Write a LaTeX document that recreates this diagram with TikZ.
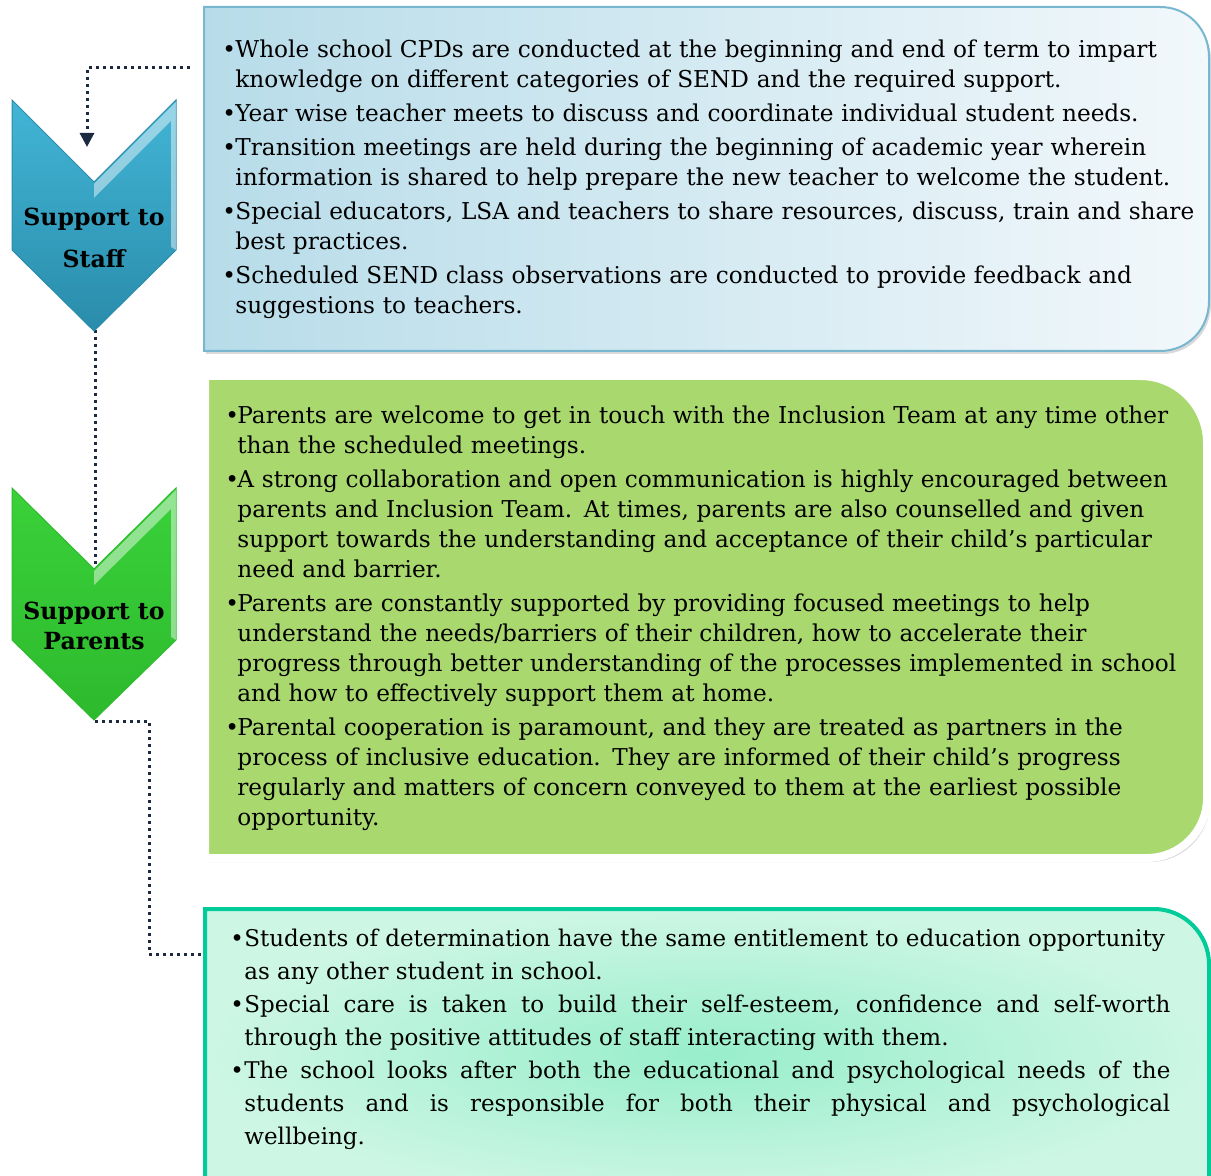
\documentclass[tikz,border=0pt]{standalone}
\usepackage{fontspec}
\setmainfont{DejaVu Serif}
\usetikzlibrary{arrows.meta,shadows,positioning}

\definecolor{navy}{HTML}{1B2A41}
\definecolor{staffblue}{HTML}{42B5D6}
\definecolor{staffdark}{HTML}{2A8CAB}
\definecolor{boxblue}{HTML}{B7DCE9}
\definecolor{boxblueright}{HTML}{F2F8FB}
\definecolor{boxblueline}{HTML}{78B7CF}
\definecolor{parentgreen}{HTML}{3AD13A}
\definecolor{parentdark}{HTML}{2DBA2D}
\definecolor{boxgreen}{HTML}{A9D86E}
\definecolor{mintline}{HTML}{00CC99}
\definecolor{mintleft}{HTML}{CDF6E5}
\definecolor{mintmid}{HTML}{98EECB}

\newlength{\bulw}
\newlength{\itemgap}
\newcommand{\bul}[1]{\par\hangindent=\bulw\hangafter=1\noindent\makebox[\bulw][l]{\textbullet}\strut#1\par\vspace{\itemgap}}

\tikzset{%
  conn/.style={navy, line width=1.5pt, dash pattern=on 1.5pt off 2pt},
  chevlabel/.style={font=\bfseries\fontsize{11.8}{15}\selectfont, align=center, inner sep=0pt},
  boxtext/.style={anchor=north west, inner sep=0pt, font=\fontsize{11.6}{15}\selectfont},
  glint/.style={fill=white, opacity=0.45}
}

\begin{document}
\begin{tikzpicture}[x=0.5pt, y=-0.5pt]
    \useasboundingbox (0,0) rectangle (1211,1176);
    \clip (0,0) rectangle (1211,1176);

    % boxes
    \path[draw=boxblueline, line width=1pt, left color=boxblue, right color=boxblueright,
      drop shadow={opacity=0.3, shadow xshift=1pt, shadow yshift=-1.5pt}]
      (204,351) -- (204,7) -- (1160,7) .. controls (1188,7) and (1209,29) .. (1209,57)
      -- (1209,301) .. controls (1209,329) and (1188,351) .. (1160,351) -- cycle;

    \path[fill=boxgreen, draw=white, line width=4pt,
      drop shadow={opacity=0.35, shadow xshift=1.5pt, shadow yshift=-2pt}]
      (205,858) -- (205,376) -- (1140,376) .. controls (1177,376) and (1207,406) .. (1207,443)
      -- (1207,798) .. controls (1207,831) and (1180,858) .. (1147,858) -- cycle;

    \path[draw=mintline, line width=2pt, inner color=mintmid, outer color=mintleft]
      (205,1200) -- (205,909) -- (1154,909) .. controls (1184,909) and (1209,934) .. (1209,964)
      -- (1209,1200) -- cycle;

    % connectors
    \coordinate (cpd start) at (190,68);
    \coordinate (cpd end) at (87,147);
    \coordinate (staff tip) at (95,330);
    \coordinate (parents notch) at (95,568);
    \coordinate (parents tip) at (95,721);
    \coordinate (rights in) at (204,954);

    \draw[conn, -{Triangle[width=7pt, length=7pt]}] (cpd start) -| (cpd end);
    \draw[conn] (staff tip) -- (parents notch);
    \draw[conn] (parents tip) -- ++(54,0) |- (rights in);

    % chevrons
    \path[top color=staffblue, bottom color=staffdark, draw=staffdark, line width=0.5pt]
      (12,100) -- (94,182) -- (176,100) -- (176,250) -- (94,331) -- (12,250) -- cycle;
    \path[glint] (176,102) -- (94,184) -- (94,198) -- (171,121) -- (171,247) -- (176,250) -- cycle;
    \node[chevlabel] (staff) at (94,238) {Support to\\[6pt]Staff};

    \path[top color=parentgreen, bottom color=parentdark, draw=parentdark, line width=0.5pt]
      (12,488) -- (94,569) -- (176,488) -- (176,640) -- (94,720) -- (12,640) -- cycle;
    \path[glint] (176,490) -- (94,571) -- (94,585) -- (171,509) -- (171,637) -- (176,640) -- cycle;
    \node[chevlabel] (parents) at (94,626) {Support to\\Parents};

    % texts
    \node[boxtext, text width=490pt] (staffnotes) at (222,27) {%
      \setlength{\bulw}{6.5pt}\setlength{\itemgap}{2pt}\raggedright
      \bul{Whole school CPDs are conducted at the beginning and end of term to impart\newline knowledge on different categories of SEND and the required support.}
      \bul{Year wise teacher meets to discuss and coordinate individual student needs.}
      \bul{Transition meetings are held during the beginning of academic year wherein\newline information is shared to help prepare the new teacher to welcome the student.}
      \bul{Special educators, LSA and teachers to share resources, discuss, train and share\newline best practices.}
      \bul{Scheduled SEND class observations are conducted to provide feedback and\newline suggestions to teachers.}};

    \node[boxtext, text width=490pt] (parentnotes) at (225,393) {%
      \setlength{\bulw}{6pt}\setlength{\itemgap}{2pt}\raggedright
      \bul{Parents are welcome to get in touch with the Inclusion Team at any time other\newline than the scheduled meetings.}
      \bul{A strong collaboration and open communication is highly encouraged between\newline parents and Inclusion Team. At times, parents are also counselled and given\newline support towards the understanding and acceptance of their child’s particular\newline need and barrier.}
      \bul{Parents are constantly supported by providing focused meetings to help\newline understand the needs/barriers of their children, how to accelerate their\newline progress through better understanding of the processes implemented in school\newline and how to effectively support them at home.}
      \bul{Parental cooperation is paramount, and they are treated as partners in the\newline process of inclusive education. They are informed of their child’s progress\newline regularly and matters of concern conveyed to them at the earliest possible\newline opportunity.}};

    \node[boxtext, text width=470pt, align=justify, font=\fontsize{11.5}{16.5}\selectfont] (rightsnotes) at (230,913) {%
      \setlength{\bulw}{7pt}\setlength{\itemgap}{0pt}
      \bul{Students of determination have the same entitlement to education opportunity\newline as any other student in school.}
      \bul{Special care is taken to build their self-esteem, confidence and self-worth\linebreak through the positive attitudes of staff interacting with them.}
      \bul{The school looks after both the educational and psychological needs of the\linebreak students and is responsible for both their physical and psychological\linebreak wellbeing.}};
\end{tikzpicture}
\end{document}
